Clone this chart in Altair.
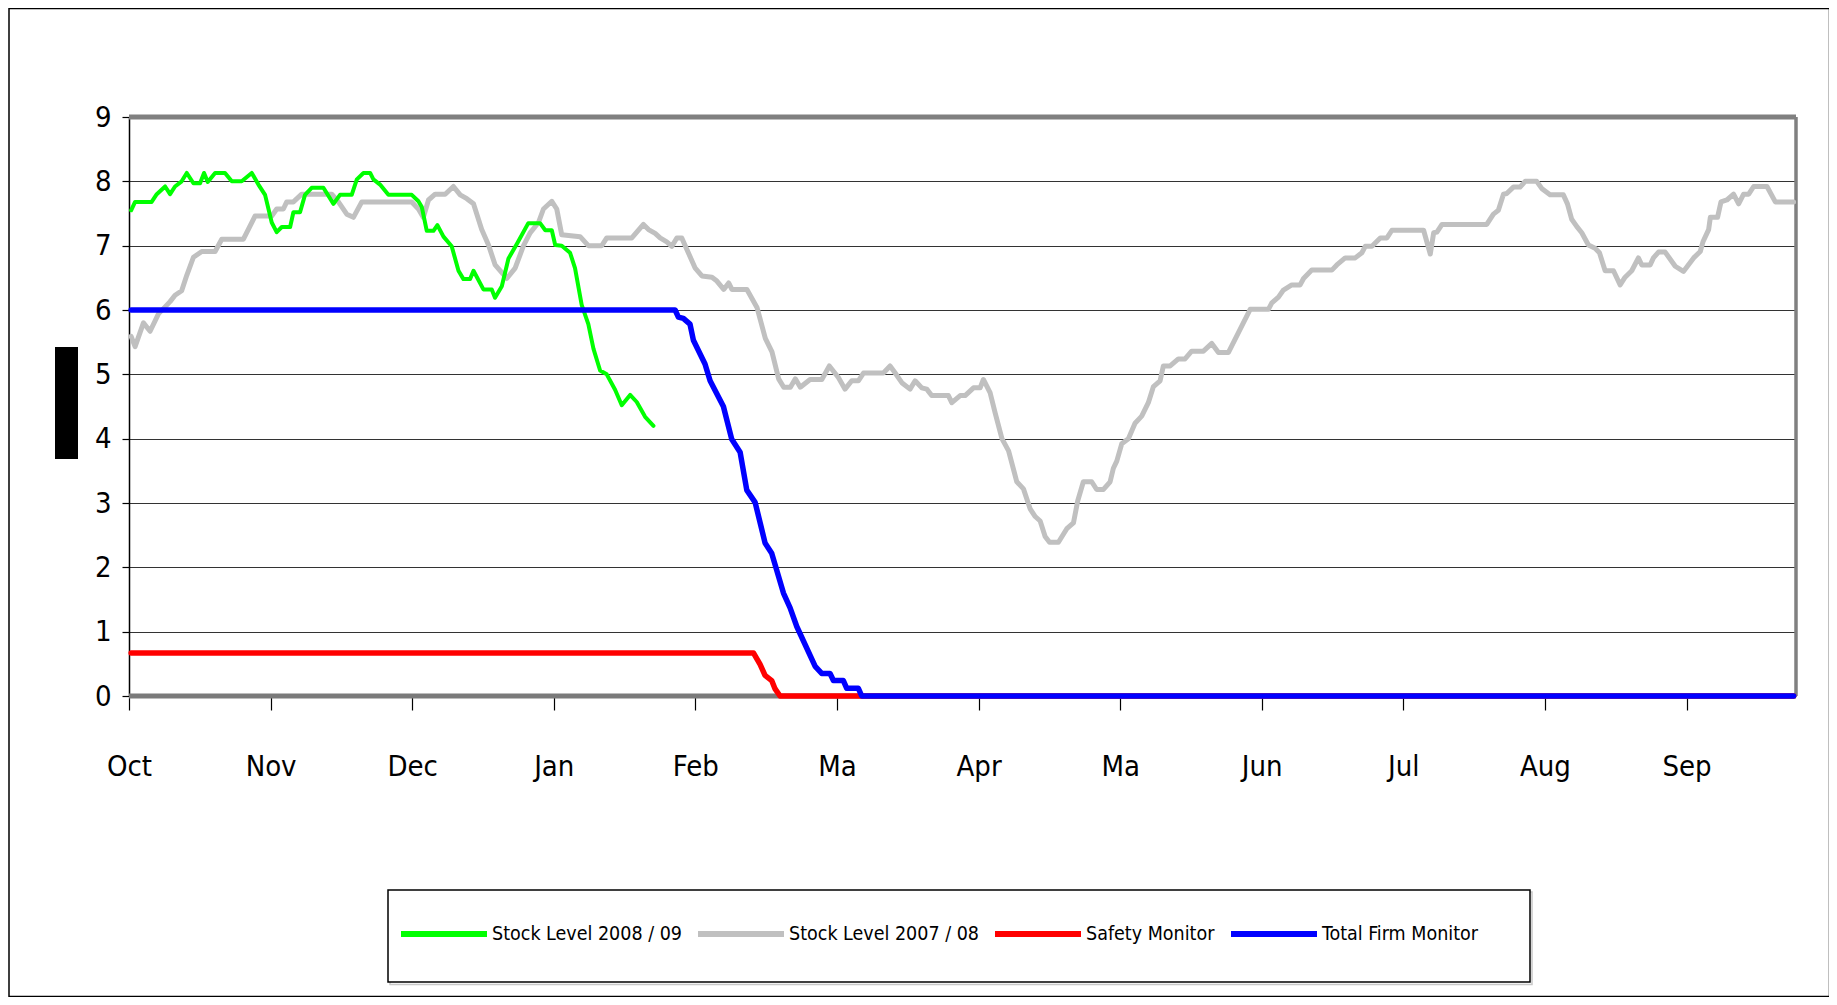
import json
import altair as alt
import pandas as pd

# ---------------- data ----------------
MONTHS = ["Oct", "Nov", "Dec", "Jan", "Feb", "Ma", "Apr", "Ma", "Jun", "Jul", "Aug", "Sep"]
SERIES = ["Stock Level 2008 / 09", "Stock Level 2007 / 08", "Safety Monitor", "Total Firm Monitor"]
COLORS = ["#00FF00", "#C0C0C0", "#FF0000", "#0000FF"]
Y_TICKS = list(range(10))
X_END = 11.773  # axis end, in months from 1 Oct

# (month position, stock level)
STOCK_0809 = [
    (0.015, 7.55), (0.043, 7.68), (0.16, 7.68), (0.196, 7.8), (0.255, 7.92), (0.29, 7.8),
    (0.325, 7.92), (0.372, 8.0), (0.408, 8.13), (0.455, 7.97), (0.502, 7.97), (0.53, 8.13),
    (0.556, 7.99), (0.608, 8.13), (0.678, 8.13), (0.726, 8.0), (0.796, 8.0), (0.867, 8.13),
    (0.914, 7.95), (0.961, 7.79), (1.008, 7.36), (1.043, 7.21), (1.079, 7.29), (1.138, 7.29),
    (1.161, 7.52), (1.208, 7.52), (1.243, 7.79), (1.29, 7.9), (1.373, 7.9), (1.444, 7.65),
    (1.49, 7.79), (1.573, 7.79), (1.609, 8.03), (1.656, 8.13), (1.703, 8.13), (1.726, 8.03),
    (1.773, 7.95), (1.832, 7.79), (1.997, 7.79), (2.044, 7.69), (2.068, 7.6), (2.103, 7.23),
    (2.15, 7.23), (2.178, 7.32), (2.221, 7.14), (2.279, 6.99), (2.327, 6.61), (2.362, 6.48),
    (2.409, 6.48), (2.433, 6.61), (2.503, 6.32), (2.562, 6.32), (2.585, 6.19), (2.633, 6.37),
    (2.68, 6.8), (2.74, 7.03), (2.82, 7.35), (2.903, 7.35), (2.94, 7.24), (2.986, 7.24),
    (3.01, 7.01), (3.056, 7.0), (3.115, 6.89), (3.15, 6.65), (3.197, 6.08), (3.244, 5.78),
    (3.28, 5.4), (3.327, 5.06), (3.374, 5.0), (3.433, 4.76), (3.48, 4.52), (3.539, 4.68),
    (3.586, 4.57), (3.645, 4.34), (3.704, 4.2),
]

STOCK_0708 = [
    (0.015, 5.59), (0.043, 5.43), (0.102, 5.8), (0.149, 5.67), (0.208, 5.94), (0.29, 6.13),
    (0.325, 6.23), (0.372, 6.3), (0.408, 6.54), (0.455, 6.82), (0.514, 6.91), (0.608, 6.91),
    (0.655, 7.1), (0.808, 7.1), (0.89, 7.46), (1.008, 7.46), (1.043, 7.57), (1.09, 7.57),
    (1.114, 7.68), (1.161, 7.68), (1.22, 7.8), (1.432, 7.8), (1.479, 7.68), (1.538, 7.49),
    (1.585, 7.44), (1.644, 7.68), (1.997, 7.68), (2.044, 7.57), (2.079, 7.44), (2.115, 7.71),
    (2.162, 7.8), (2.233, 7.8), (2.291, 7.92), (2.339, 7.79), (2.386, 7.73), (2.433, 7.65),
    (2.491, 7.25), (2.539, 7.01), (2.586, 6.7), (2.668, 6.49), (2.727, 6.65), (2.786, 7.0),
    (2.833, 7.2), (2.892, 7.36), (2.927, 7.57), (2.986, 7.69), (3.021, 7.57), (3.056, 7.17),
    (3.186, 7.14), (3.244, 7.0), (3.339, 7.0), (3.374, 7.12), (3.551, 7.12), (3.633, 7.33),
    (3.669, 7.25), (3.716, 7.19), (3.751, 7.12), (3.798, 7.06), (3.834, 6.99), (3.869, 7.12),
    (3.904, 7.12), (3.94, 6.94), (3.999, 6.65), (4.046, 6.53), (4.117, 6.51), (4.152, 6.45),
    (4.2, 6.32), (4.235, 6.42), (4.258, 6.32), (4.364, 6.32), (4.435, 6.04), (4.494, 5.56),
    (4.541, 5.35), (4.588, 4.93), (4.624, 4.8), (4.671, 4.8), (4.706, 4.93), (4.741, 4.8),
    (4.81, 4.92), (4.893, 4.92), (4.946, 5.13), (5.01, 4.95), (5.057, 4.77), (5.104, 4.9),
    (5.151, 4.9), (5.187, 5.02), (5.328, 5.02), (5.375, 5.13), (5.411, 5.02), (5.458, 4.87),
    (5.516, 4.77), (5.552, 4.9), (5.599, 4.79), (5.634, 4.77), (5.669, 4.67), (5.787, 4.67),
    (5.811, 4.56), (5.87, 4.67), (5.905, 4.67), (5.964, 4.79), (6.011, 4.79), (6.034, 4.92),
    (6.082, 4.71), (6.117, 4.4), (6.165, 4.0), (6.212, 3.81), (6.27, 3.33), (6.317, 3.22),
    (6.364, 2.91), (6.4, 2.79), (6.435, 2.72), (6.47, 2.48), (6.501, 2.39), (6.564, 2.39),
    (6.623, 2.6), (6.67, 2.69), (6.7, 3.03), (6.74, 3.33), (6.799, 3.33), (6.834, 3.21),
    (6.882, 3.21), (6.929, 3.33), (6.952, 3.54), (6.976, 3.65), (7.011, 3.92), (7.058, 4.0),
    (7.105, 4.24), (7.152, 4.35), (7.199, 4.56), (7.235, 4.81), (7.282, 4.9), (7.305, 5.13),
    (7.353, 5.13), (7.411, 5.24), (7.458, 5.24), (7.505, 5.36), (7.588, 5.36), (7.647, 5.48),
    (7.694, 5.34), (7.765, 5.34), (7.918, 6.01), (8.047, 6.01), (8.071, 6.11), (8.118, 6.2),
    (8.153, 6.31), (8.212, 6.39), (8.271, 6.39), (8.295, 6.49), (8.353, 6.62), (8.495, 6.62),
    (8.53, 6.7), (8.589, 6.81), (8.66, 6.81), (8.707, 6.89), (8.731, 6.99), (8.778, 6.99),
    (8.837, 7.12), (8.884, 7.12), (8.919, 7.24), (9.143, 7.24), (9.19, 6.87), (9.214, 7.2),
    (9.237, 7.21), (9.273, 7.33), (9.589, 7.33), (9.636, 7.49), (9.671, 7.55), (9.707, 7.8),
    (9.73, 7.81), (9.777, 7.91), (9.824, 7.91), (9.86, 8.0), (9.942, 8.0), (9.977, 7.89),
    (10.036, 7.79), (10.13, 7.79), (10.159, 7.65), (10.189, 7.41), (10.224, 7.3), (10.26, 7.2),
    (10.307, 7.01), (10.354, 6.96), (10.385, 6.89), (10.425, 6.61), (10.484, 6.61),
    (10.531, 6.39), (10.566, 6.51), (10.613, 6.61), (10.66, 6.81), (10.684, 6.7),
    (10.743, 6.7), (10.766, 6.81), (10.802, 6.9), (10.849, 6.9), (10.92, 6.68), (10.978, 6.6),
    (11.05, 6.81), (11.097, 6.91), (11.116, 7.06), (11.156, 7.25), (11.168, 7.44),
    (11.219, 7.44), (11.243, 7.68), (11.285, 7.71), (11.332, 7.8), (11.368, 7.65),
    (11.403, 7.8), (11.439, 7.8), (11.474, 7.92), (11.568, 7.92), (11.627, 7.68),
    (11.756, 7.68),
]

SAFETY = [
    (0.015, 0.67), (4.41, 0.67), (4.457, 0.49), (4.492, 0.32), (4.539, 0.24), (4.563, 0.11),
    (4.598, 0.0), (11.756, 0.0),
]

TOTAL_FIRM = [
    (0.015, 6.0), (3.857, 6.0), (3.88, 5.89), (3.915, 5.87), (3.962, 5.78), (3.986, 5.53),
    (4.068, 5.16), (4.104, 4.9), (4.198, 4.5), (4.257, 3.99), (4.316, 3.79), (4.363, 3.2),
    (4.422, 3.01), (4.492, 2.38), (4.539, 2.22), (4.622, 1.6), (4.669, 1.37), (4.716, 1.08),
    (4.846, 0.46), (4.892, 0.35), (4.951, 0.35), (4.975, 0.24), (5.045, 0.24), (5.069, 0.12),
    (5.151, 0.12), (5.175, 0.0), (11.756, 0.0),
]


def frame(points, name):
    return pd.DataFrame({"m": [p[0] for p in points], "v": [p[1] for p in points], "s": name})


# ---------------- layout / style ----------------
W, H = 1667, 579
FONT = "Liberation Sans Narrow, Arial Narrow, DejaVu Sans Condensed, sans-serif"

xscale = alt.Scale(domain=[0, X_END], nice=False, zero=False)
yscale = alt.Scale(domain=[0, 9], nice=False, zero=True)

xaxis = alt.Axis(
    values=list(range(len(MONTHS))), labelExpr=f"{json.dumps(MONTHS)}[datum.value]",
    grid=False, domain=False, ticks=True, tickSize=14, tickColor="black", tickWidth=1.2,
    labelFont=FONT, labelFontSize=29, labelColor="black", labelPadding=42, labelAngle=0,
    labelAlign="center", labelBaseline="top", labelFlush=False, title=None,
)
yaxis = alt.Axis(
    values=Y_TICKS, format="d", grid=True, gridColor="#333333", gridWidth=1,
    domain=True, domainColor="black", domainWidth=1.5, ticks=True, tickSize=7,
    tickColor="black", tickWidth=1.2, labelFont=FONT, labelFontSize=29, labelColor="black",
    labelPadding=11, title=None,
)
color = alt.Color(
    "s:N", scale=alt.Scale(domain=SERIES, range=COLORS),
    legend=alt.Legend(
        title=None, orient="none", legendX=269, legendY=771, direction="horizontal",
        symbolType="stroke", symbolSize=86 * 86, symbolStrokeWidth=6,
        labelFont=FONT, labelFontSize=19.5, labelColor="black", labelOffset=2,
        columnPadding=4, padding=0, labelLimit=400,
    ),
)


def line(points, name, width):
    return alt.Chart(frame(points, name)).mark_line(
        strokeWidth=width, strokeJoin="round", strokeCap="round"
    ).encode(
        x=alt.X("m:Q", scale=xscale, axis=xaxis),
        y=alt.Y("v:Q", scale=yscale, axis=yaxis),
        color=color,
    )


one = pd.DataFrame({"a": [0]})
outer_border = alt.Chart(one).mark_rect(fillOpacity=0, stroke="black", strokeWidth=1.5).encode(
    x=alt.value(-120), x2=alt.value(1700.5), y=alt.value(-108.5), y2=alt.value(879.5)
)
legend_shadow = alt.Chart(one).mark_rect(fillOpacity=0, stroke="#c8c8c8", strokeWidth=1.5).encode(
    x=alt.value(261), x2=alt.value(1403), y=alt.value(775), y2=alt.value(867.5)
)
legend_box = alt.Chart(one).mark_rect(fill="white", stroke="black", strokeWidth=1.5).encode(
    x=alt.value(259), x2=alt.value(1401), y=alt.value(773), y2=alt.value(865)
)
title_block = alt.Chart(one).mark_rect(fill="black").encode(
    x=alt.value(-74), x2=alt.value(-51), y=alt.value(230), y2=alt.value(342)
)

top_rule = alt.Chart(pd.DataFrame({"v": [9]})).mark_rule(color="#808080", strokeWidth=5).encode(
    y=alt.Y("v:Q", scale=yscale, axis=yaxis)
)
bottom_rule = alt.Chart(pd.DataFrame({"v": [0]})).mark_rule(color="#7a7a7a", strokeWidth=5).encode(
    y=alt.Y("v:Q", scale=yscale, axis=yaxis)
)
right_rule = alt.Chart(pd.DataFrame({"m": [X_END]})).mark_rule(color="#808080", strokeWidth=3.5).encode(
    x=alt.X("m:Q", scale=xscale, axis=xaxis)
)

chart = alt.layer(
    outer_border, legend_shadow, legend_box, title_block, top_rule, right_rule, bottom_rule,
    line(STOCK_0708, SERIES[1], 5),
    line(STOCK_0809, SERIES[0], 4),
    line(SAFETY, SERIES[2], 5.5),
    line(TOTAL_FIRM, SERIES[3], 5.5),
).properties(
    width=W, height=H,
    padding={"left": 121, "top": 109, "right": 33, "bottom": 301},
    autosize=alt.AutoSizeParams(type="none"),
    background="white",
).configure_view(stroke=None)

chart.save("out.html", embed_options={"renderer": "svg", "actions": False})
